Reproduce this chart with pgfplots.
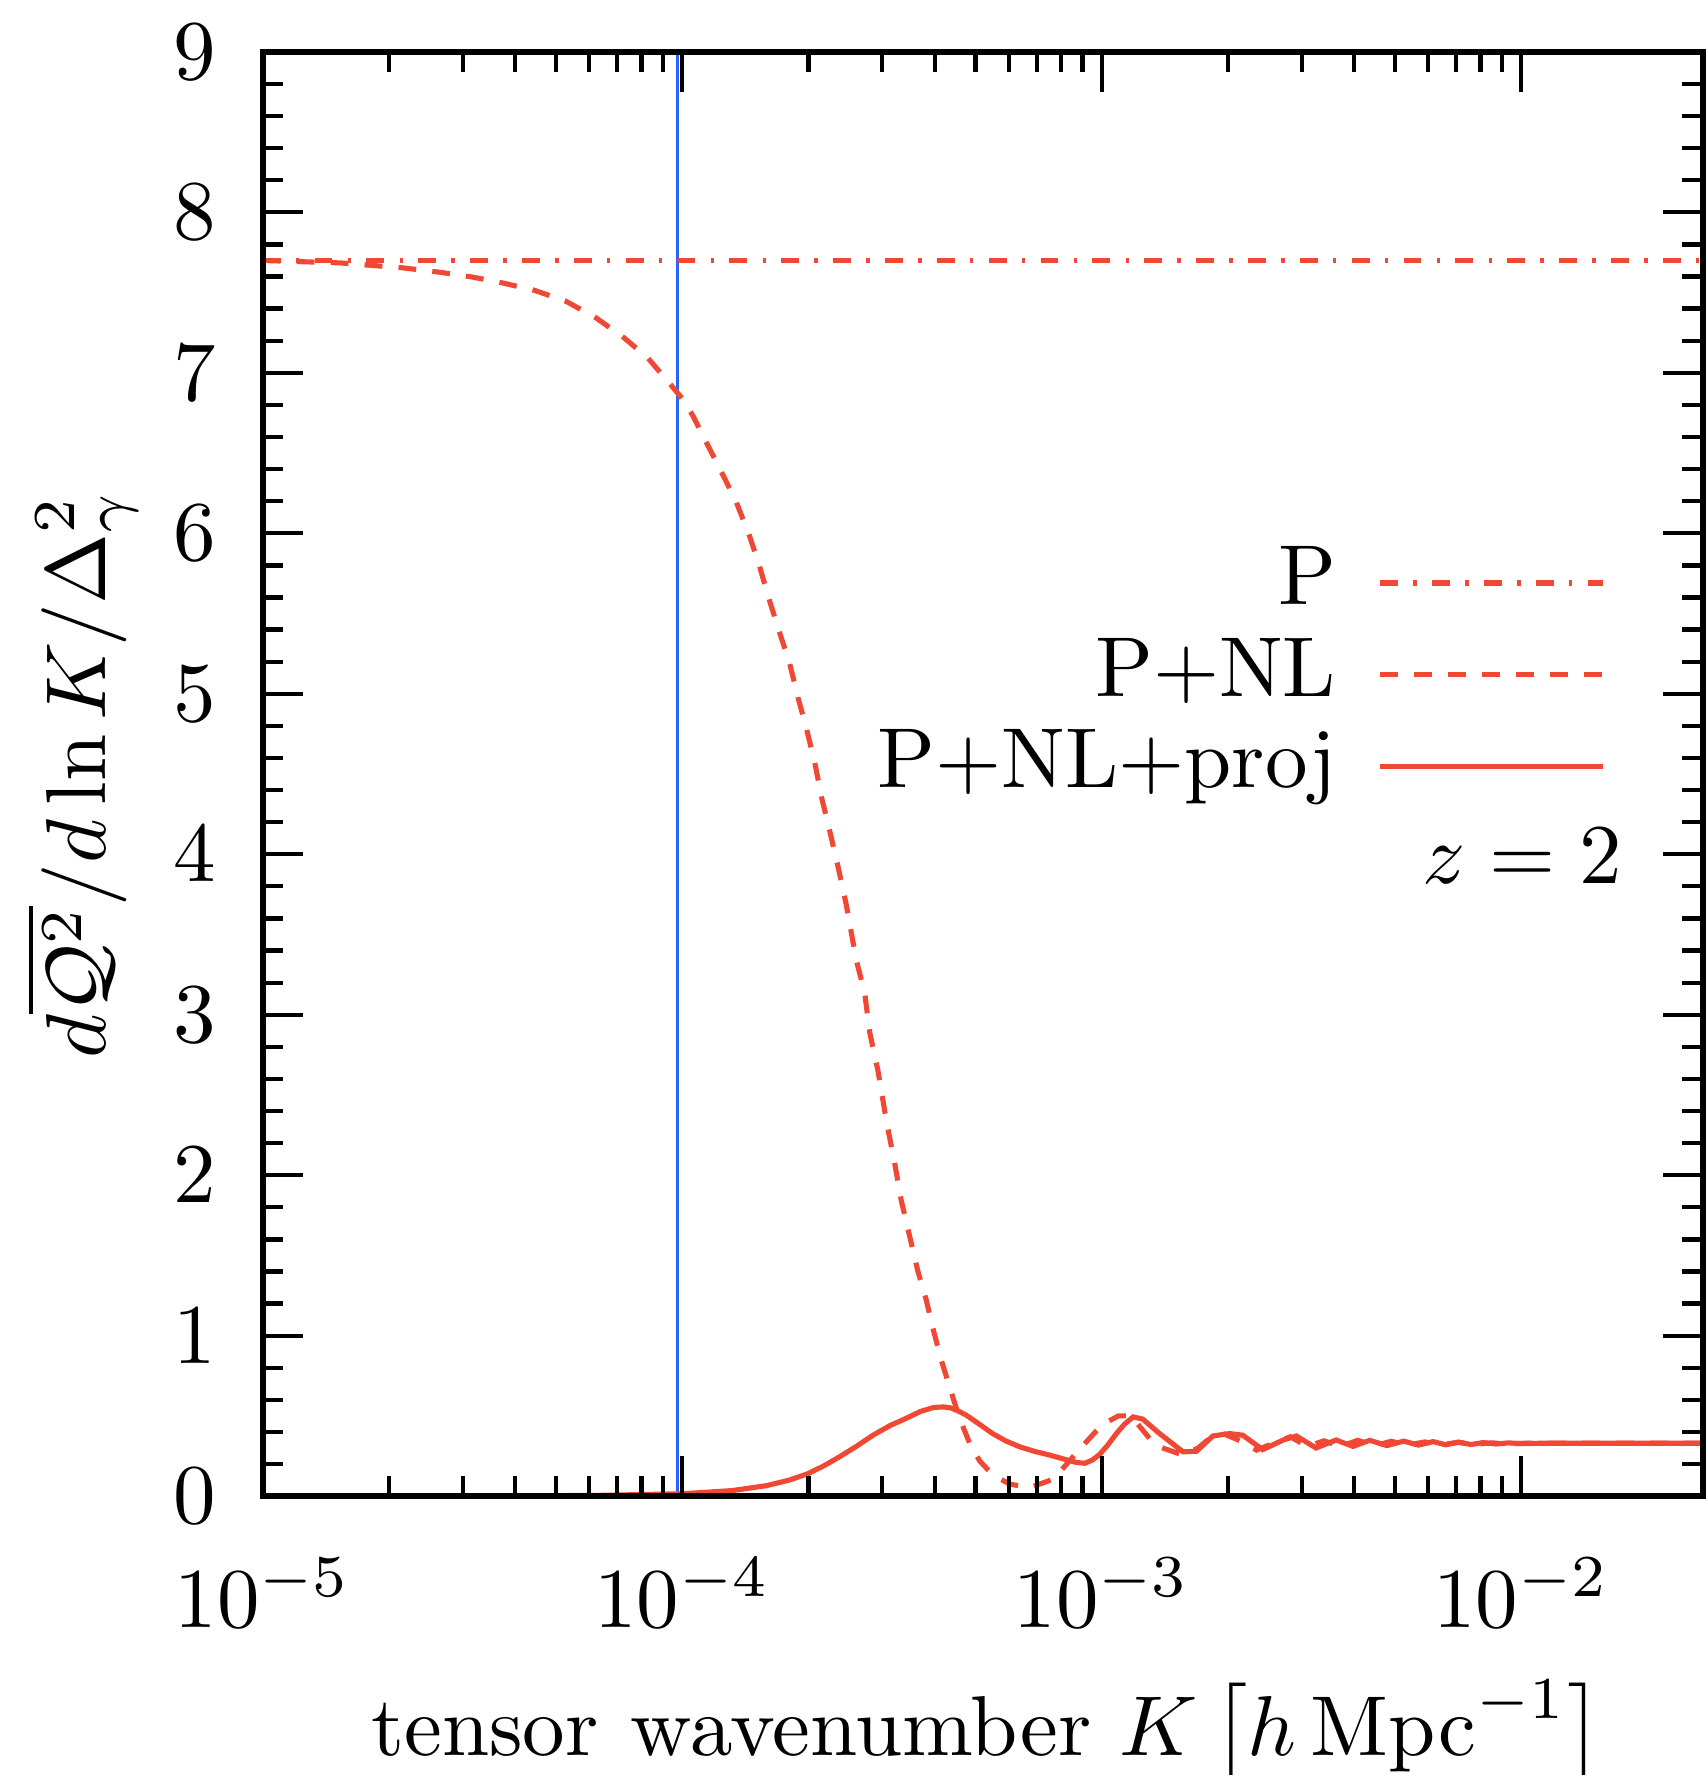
\documentclass[border=0pt]{standalone}
\usepackage{pgfplots}
\pgfplotsset{compat=1.18}
\definecolor{cred}{RGB}{240,72,52}
\definecolor{cblue}{RGB}{40,100,255}
\begin{document}
\begin{tikzpicture}
\begin{axis}[
  scale only axis, width=169.4pt, height=169.9pt,
  xmode=log, xmin=1e-5, xmax=2.71e-2, ymin=0, ymax=9,
  ytick={0,1,...,9}, minor y tick num=4,
  tick align=inside, xtick pos=both, ytick pos=both,
  xticklabel pos=lower, yticklabel pos=left,
  major tick length=4.7pt, minor tick length=2.4pt,
  every tick/.style={black, line width=0.5pt},
  axis line style={line width=0.7pt},
  xticklabel style={anchor=base, yshift=-15.4pt},
  yticklabel style={xshift=-2pt},
  xlabel={tensor\hspace{3.8pt}wavenumber $K\left[h\,\mathrm{Mpc}^{-1}\right]$},
  xlabel style={at={(axis description cs:0.503,-0.1794)}, anchor=base},
  ylabel={$d\overline{\mathcal{Q}^2}/d\ln K/\Delta_\gamma^2$},
  ylabel style={at={(axis description cs:-0.109,0.5)}, anchor=base, rotate=0},
  legend plot pos=right,
  legend cell align=right,
  legend image code/.code={\draw[#1] (0pt,0pt) -- (26.2pt,0pt);},
  legend style={draw=none, fill=none, inner sep=0pt, outer sep=0pt,
    at={(axis description cs:0.9325,0.664)}, anchor=north east,
    row sep=0pt, column sep=4pt,
    nodes={inner sep=0.9pt, text height=7pt, text depth=2pt}},
  axis on top,
]
\addplot[cblue, line width=0.4pt, forget plot] coordinates {(9.75e-5,0) (9.75e-5,9)};
\addplot[cred, line width=0.6pt, dash pattern=on 2.1pt off 1.8pt on 0.4pt off 1.8pt]
  coordinates {(1e-5,7.70) (2.71e-2,7.70)};
\addlegendentry{P}
\addplot[cred, line width=0.6pt, dash pattern=on 2.1pt off 1.9pt] coordinates {
(1e-5,7.70) (1.524e-5,7.685) (2.158e-5,7.654) (2.636e-5,7.627) (3.141e-5,7.598)
(3.733e-5,7.56) (4.446e-5,7.514) (5.284e-5,7.446) (6.237e-5,7.342) (7.278e-5,7.217)
(8.279e-5,7.093) (9.311e-5,6.937) (1e-4,6.84) (1.062e-4,6.73) (1.143e-4,6.564)
(1.239e-4,6.385) (1.346e-4,6.194) (1.449e-4,5.98) (1.531e-4,5.789) (1.618e-4,5.574)
(1.706e-4,5.383) (1.803e-4,5.192) (1.888e-4,4.977) (1.977e-4,4.786) (2.070e-4,4.572)
(2.148e-4,4.357) (2.249e-4,4.142) (2.350e-4,3.928) (2.460e-4,3.689) (2.600e-4,3.34)
(2.723e-4,3.137) (2.799e-4,2.89) (2.931e-4,2.647) (3.069e-4,2.335) (3.214e-4,2.068)
(3.327e-4,1.845) (3.483e-4,1.623) (3.648e-4,1.40) (3.819e-4,1.222) (3.963e-4,1.044)
(4.150e-4,0.844) (4.385e-4,0.643) (4.581e-4,0.487) (4.842e-4,0.331) (5.117e-4,0.22)
(5.508e-4,0.131) (6.039e-4,0.075) (6.730e-4,0.053) (7.656e-4,0.105) (8.241e-4,0.198)
(8.913e-4,0.30) (1e-3,0.443) (1.096e-3,0.50) (1.175e-3,0.50) (1.300e-3,0.36)
(1.374e-3,0.307) (1.563e-3,0.256) (1.698e-3,0.30) (1.807e-3,0.36) (1.945e-3,0.39)
(2.168e-3,0.339) (2.339e-3,0.287) (2.570e-3,0.33) (2.818e-3,0.37) (3.090e-3,0.31)
(3.388e-3,0.345) (3.715e-3,0.31) (4.074e-3,0.348) (4.467e-3,0.314) (4.898e-3,0.342)
(5.370e-3,0.318) (5.888e-3,0.338) (6.457e-3,0.321) (7.079e-3,0.335) (7.762e-3,0.323)
(8.511e-3,0.332) (9.333e-3,0.326) (1.023e-2,0.330) (1.2e-2,0.33) (2.71e-2,0.33)
};
\addlegendentry{P+NL}
\addplot[cred, line width=0.6pt] coordinates {
(1e-5,0) (3.162e-5,0) (6.31e-5,0.005) (1e-4,0.015) (1.318e-4,0.035) (1.585e-4,0.065)
(1.8e-4,0.10) (1.995e-4,0.14) (2.18e-4,0.19) (2.371e-4,0.245) (2.6e-4,0.31) (2.851e-4,0.38)
(3.13e-4,0.44) (3.420e-4,0.485) (3.7e-4,0.528) (3.981e-4,0.553) (4.2e-4,0.556)
(4.365e-4,0.55) (4.553e-4,0.53) (4.753e-4,0.505) (5.1e-4,0.45) (5.495e-4,0.39)
(5.9e-4,0.345) (6.383e-4,0.307) (6.9e-4,0.28) (7.516e-4,0.256) (8.1e-4,0.232)
(8.710e-4,0.21) (9.12e-4,0.205) (9.5e-4,0.225) (9.886e-4,0.26) (1.035e-3,0.32)
(1.084e-3,0.39) (1.135e-3,0.45) (1.189e-3,0.494)
(1.253e-3,0.48) (1.374e-3,0.39) (1.563e-3,0.276) (1.683e-3,0.28) (1.841e-3,0.375)
(2.018e-3,0.39) (2.168e-3,0.38) (2.421e-3,0.29) (2.704e-3,0.349) (2.911e-3,0.375)
(3.243e-3,0.30) (3.622e-3,0.35) (3.972e-3,0.31) (4.355e-3,0.348) (4.786e-3,0.315)
(5.248e-3,0.343) (5.689e-3,0.318) (6.166e-3,0.34) (6.607e-3,0.32) (7.079e-3,0.337)
(7.586e-3,0.322) (8.128e-3,0.334) (8.71e-3,0.325) (9.333e-3,0.332) (1e-2,0.327)
(1.122e-2,0.33) (2.71e-2,0.33)
};
\addlegendentry{P+NL+proj}
\node[anchor=base east, inner sep=0pt] at (axis description cs:0.945,0.4245) {$z=2$};
\end{axis}
\pgfresetboundingbox
\useasboundingbox ([xshift=-30.9pt,yshift=-32.8pt]current axis.south west) rectangle ([xshift=0.35pt,yshift=6.1pt]current axis.north east);
\end{tikzpicture}
\end{document}
